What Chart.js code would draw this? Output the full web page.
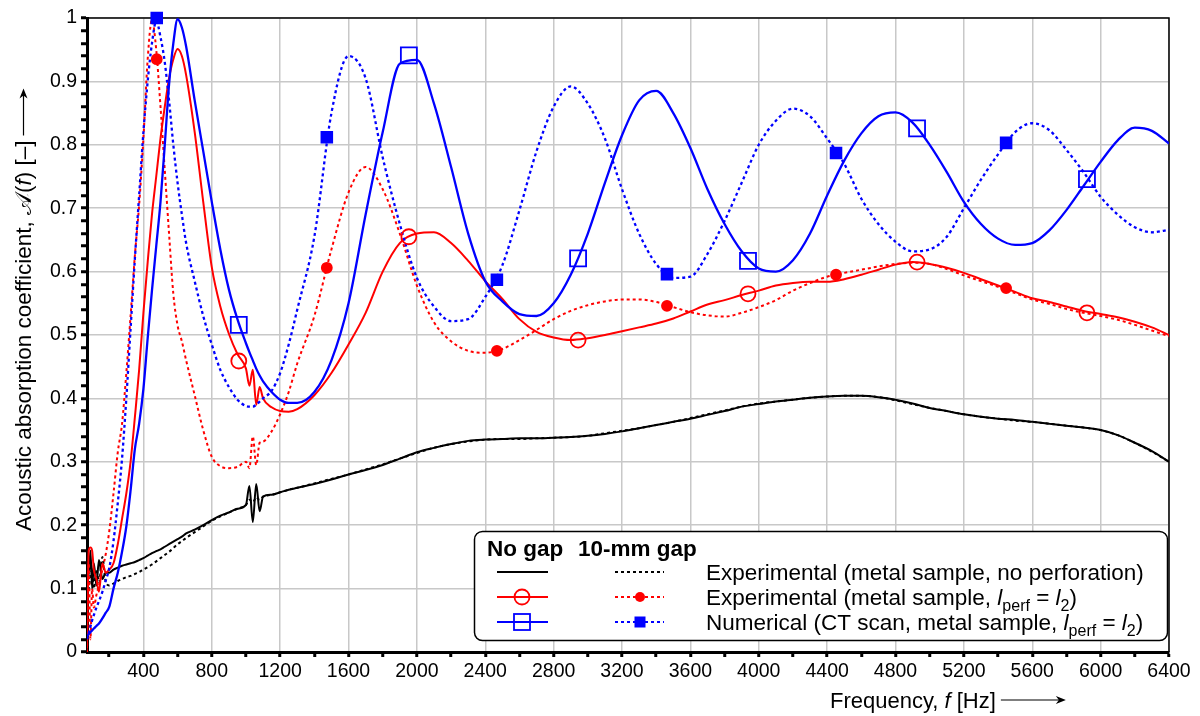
<!DOCTYPE html>
<html>
<head>
<meta charset="utf-8">
<script src="https://cdn.jsdelivr.net/npm/chart.js@4.4.1/dist/chart.umd.min.js"></script>
<style>
  html, body { margin: 0; padding: 0; background: #fff; }
</style>
</head>
<body>
<canvas id="c" width="1200" height="716"></canvas>
<script>
// frequency grid [Hz] shared by all curves
const freq = [
  70, 80, 90, 100, 110, 125, 140, 160, 180, 200,
  225, 250, 275, 300, 325, 350, 375, 400, 425, 450,
  475, 500, 525, 550, 575, 600, 625, 650, 700, 750,
  800, 850, 900, 950, 1000, 1020, 1040, 1060, 1080, 1100,
  1150, 1200, 1250, 1300,
  1400, 1500, 1600, 1700, 1800, 1900, 2000, 2100, 2200, 2300,
  2400, 2500, 2600, 2700, 2800, 2900, 3000, 3100, 3200, 3300,
  3400, 3500, 3600, 3700, 3800, 3900, 4000, 4100, 4200, 4300,
  4400, 4500, 4600, 4700, 4800, 4900, 5000, 5100, 5200, 5300,
  5400, 5500, 5600, 5700, 5800, 5900, 6000, 6100, 6200, 6300,
  6400
];

// experimental, metal sample, no perforation (no gap / 10-mm gap)
const expNoPerf = [
  0.18, 0.12, 0.16, 0.10, 0.14, 0.105, 0.145, 0.115, 0.125, 0.125,
  0.13, 0.133, 0.136, 0.138, 0.14, 0.142, 0.145, 0.148, 0.152, 0.156,
  0.159, 0.162, 0.166, 0.17, 0.174, 0.178, 0.182, 0.187, 0.193, 0.2,
  0.208, 0.215, 0.22, 0.226, 0.232, 0.262, 0.205, 0.265, 0.222, 0.245,
  0.248, 0.252, 0.256, 0.259,
  0.265, 0.272, 0.28, 0.287, 0.295, 0.305, 0.315, 0.322, 0.328, 0.333,
  0.335, 0.336, 0.337, 0.337, 0.338, 0.339, 0.341, 0.344, 0.348, 0.353,
  0.358, 0.363, 0.368, 0.374, 0.38, 0.387, 0.391, 0.395, 0.398, 0.401,
  0.403, 0.404, 0.404, 0.402, 0.398, 0.392, 0.385, 0.38, 0.375, 0.371,
  0.368, 0.366, 0.363, 0.36, 0.357, 0.354, 0.35, 0.342, 0.33, 0.317,
  0.3
];
const expNoPerfGap = [
  0.14, 0.10, 0.12, 0.13, 0.10, 0.13, 0.11, 0.15, 0.11, 0.105,
  0.108, 0.112, 0.115, 0.118, 0.12, 0.123, 0.126, 0.13, 0.134, 0.138,
  0.143, 0.148, 0.153, 0.158, 0.164, 0.17, 0.175, 0.18, 0.189, 0.198,
  0.207, 0.214, 0.22, 0.226, 0.232, 0.24, 0.236, 0.244, 0.24, 0.245,
  0.248, 0.252, 0.256, 0.259,
  0.266, 0.273, 0.28, 0.288, 0.296, 0.305, 0.314, 0.322, 0.328, 0.332,
  0.335, 0.336, 0.336, 0.337, 0.338, 0.339, 0.341, 0.345, 0.349, 0.353,
  0.358, 0.363, 0.369, 0.375, 0.381, 0.387, 0.392, 0.395, 0.398, 0.401,
  0.403, 0.404, 0.404, 0.402, 0.397, 0.391, 0.385, 0.38, 0.375, 0.371,
  0.368, 0.365, 0.363, 0.36, 0.357, 0.354, 0.35, 0.342, 0.33, 0.316,
  0.3
];

// experimental, metal sample, l_perf = l_2
const expPerf = [
  0.005, 0.16, 0.165, 0.16, 0.13, 0.115, 0.095, 0.14, 0.125, 0.13,
  0.14, 0.17, 0.21, 0.25, 0.30, 0.37, 0.445, 0.535, 0.615, 0.69,
  0.75, 0.81, 0.86, 0.905, 0.935, 0.951, 0.94, 0.91, 0.82, 0.71,
  0.607, 0.545, 0.502, 0.47, 0.447, 0.42, 0.445, 0.39, 0.418, 0.40,
  0.386, 0.38, 0.379, 0.383,
  0.405, 0.44, 0.485, 0.535, 0.6, 0.645, 0.66, 0.662, 0.645, 0.617,
  0.585, 0.557, 0.525, 0.505, 0.496, 0.492, 0.495, 0.5, 0.506, 0.512,
  0.518, 0.526, 0.537, 0.548, 0.555, 0.563, 0.57, 0.578, 0.582, 0.584,
  0.584, 0.588, 0.595, 0.603, 0.611, 0.615, 0.612, 0.606, 0.598, 0.588,
  0.578, 0.568, 0.558, 0.552, 0.545, 0.538, 0.533, 0.528, 0.521, 0.512,
  0.5
];
const expPerfGap = [
  0.0, 0.14, 0.02, 0.10, 0.07, 0.09, 0.105, 0.13, 0.155, 0.19,
  0.25, 0.315, 0.36, 0.44, 0.53, 0.625, 0.705, 0.81, 0.935, 0.997,
  0.95, 0.86, 0.76, 0.66, 0.565, 0.515, 0.49, 0.46, 0.405, 0.35,
  0.308, 0.293, 0.29, 0.292, 0.30, 0.29, 0.34, 0.295, 0.33, 0.332,
  0.348, 0.375, 0.41, 0.455,
  0.53, 0.635, 0.725, 0.765, 0.73, 0.66, 0.578, 0.52, 0.49, 0.475,
  0.472, 0.478, 0.492, 0.508, 0.525, 0.538, 0.547, 0.553, 0.556, 0.556,
  0.552, 0.544, 0.536, 0.531, 0.529, 0.535, 0.544, 0.555, 0.57, 0.582,
  0.592, 0.598, 0.603, 0.608, 0.612, 0.614, 0.612, 0.604, 0.594, 0.585,
  0.576, 0.566, 0.556, 0.549, 0.541, 0.535, 0.53, 0.524, 0.516, 0.507,
  0.498
];

// numerical (CT scan), metal sample, l_perf = l_2
const numPerf = [
  0.025, 0.028, 0.031, 0.034, 0.037, 0.041, 0.045, 0.053, 0.062, 0.071,
  0.10, 0.125, 0.158, 0.198, 0.255, 0.32, 0.36, 0.415, 0.495, 0.57,
  0.64, 0.71, 0.80, 0.895, 0.96, 0.998, 0.985, 0.955, 0.87, 0.79,
  0.71, 0.635, 0.572, 0.525, 0.487, 0.473, 0.46, 0.447, 0.436, 0.427,
  0.41, 0.398, 0.393, 0.393,
  0.41, 0.46, 0.55, 0.69, 0.82, 0.928, 0.934, 0.865, 0.765, 0.66,
  0.585, 0.553, 0.533, 0.53, 0.55, 0.595, 0.66, 0.74, 0.815, 0.87,
  0.885, 0.85, 0.795, 0.73, 0.675, 0.632, 0.605, 0.60, 0.618, 0.66,
  0.72, 0.775, 0.818, 0.845, 0.851, 0.835, 0.80, 0.757, 0.71, 0.675,
  0.652, 0.642, 0.645, 0.665, 0.697, 0.735, 0.773, 0.807, 0.827, 0.822,
  0.802
];
const numPerfGap = [
  0.02, 0.03, 0.04, 0.05, 0.058, 0.07, 0.08, 0.095, 0.113, 0.132,
  0.175, 0.235, 0.305, 0.40, 0.51, 0.62, 0.72, 0.82, 0.90, 0.96,
  0.995, 0.97, 0.93, 0.87, 0.80, 0.74, 0.69, 0.645, 0.585, 0.53,
  0.485, 0.445, 0.418, 0.398, 0.388, 0.387, 0.387, 0.39, 0.395, 0.40,
  0.412, 0.44, 0.485, 0.54,
  0.655, 0.85, 0.94, 0.905, 0.78, 0.675, 0.59, 0.545, 0.522, 0.525,
  0.56, 0.61, 0.697, 0.79, 0.86, 0.892, 0.865, 0.81, 0.73, 0.66,
  0.612, 0.59, 0.592, 0.628, 0.68, 0.74, 0.80, 0.838, 0.857, 0.845,
  0.81, 0.77, 0.715, 0.675, 0.647, 0.632, 0.635, 0.655, 0.70, 0.745,
  0.785, 0.82, 0.834, 0.823, 0.792, 0.757, 0.718, 0.69, 0.67, 0.662,
  0.666
];

// sparse markers
const markFreqNoGap = [958, 1953, 2943, 3937, 4926, 5920];
const markFreqGap = [478, 1473, 2468, 3463, 4452, 5447];
const markExpPerf = [0.459, 0.655, 0.492, 0.565, 0.615, 0.535];
const markNumPerf = [0.516, 0.941, 0.621, 0.617, 0.826, 0.746];
const markExpPerfGap = [0.935, 0.606, 0.475, 0.546, 0.595, 0.574];
const markNumPerfGap = [1.0, 0.812, 0.587, 0.596, 0.787, 0.803];

// axis ticks
const xTicks = [200, 400, 600, 800, 1000, 1200, 1400, 1600, 1800, 2000, 2200, 2400, 2600, 2800, 3000, 3200,
  3400, 3600, 3800, 4000, 4200, 4400, 4600, 4800, 5000, 5200, 5400, 5600, 5800, 6000, 6200, 6400];
const yTicks = Array.from({ length: 51 }, (_, i) => i / 50);

const FONT = '"Liberation Sans", Arial, sans-serif';
const RED = '#ff0000';
const BLUE = '#0000ff';
const TXT = 22.5;

const pts = (xs, ys) => xs.map((x, i) => ({ x: x, y: ys[i] }));

const curve = (vals, color, dotted, width) => ({
  data: pts(freq, vals),
  borderColor: color,
  borderWidth: width,
  borderDash: dotted ? [3, 3] : [],
  pointRadius: 0,
  order: 2
});

const markers = (xs, ys, color, style, radius, filled) => ({
  data: pts(xs, ys),
  showLine: false,
  pointStyle: style,
  pointRadius: radius,
  pointBorderWidth: 1.8,
  pointBorderColor: color,
  pointBackgroundColor: filled ? color : 'rgba(0,0,0,0)',
  clip: false,
  order: 0
});

// draws a run of text pieces (normal / italic / subscript / bold)
function drawRuns(ctx, runs, x, y, size) {
  for (const r of runs) {
    const s = r.sub ? Math.round(size * 0.72) : size;
    ctx.font = (r.it ? 'italic ' : '') + (r.bold ? 'bold ' : '') + s + 'px ' + FONT;
    ctx.fillText(r.t, x, y + (r.sub ? size * 0.28 : 0));
    x += ctx.measureText(r.t).width;
  }
  return x;
}

function arrow(ctx, x1, y, x2) {
  ctx.beginPath();
  ctx.moveTo(x1, y);
  ctx.lineTo(x2 - 6, y);
  ctx.lineWidth = 1.2;
  ctx.stroke();
  ctx.beginPath();
  ctx.moveTo(x2, y);
  ctx.lineTo(x2 - 10, y - 4);
  ctx.lineTo(x2 - 7, y);
  ctx.lineTo(x2 - 10, y + 4);
  ctx.closePath();
  ctx.fill();
}

const frame = {
  id: 'frame',
  beforeDatasetsDraw(chart) {
    const { ctx, chartArea: a } = chart;
    ctx.save();
    ctx.strokeStyle = '#000';
    ctx.lineWidth = 1.5;
    ctx.beginPath();
    ctx.moveTo(a.left, a.top);
    ctx.lineTo(a.right, a.top);
    ctx.lineTo(a.right, a.bottom);
    ctx.stroke();
    ctx.restore();
  }
};

const titles = {
  id: 'titles',
  afterDraw(chart) {
    const ctx = chart.ctx;
    ctx.save();
    ctx.fillStyle = '#000';
    ctx.strokeStyle = '#000';
    ctx.textBaseline = 'alphabetic';
    // x title
    let x = drawRuns(ctx, [
      { t: 'Frequency, ' }, { t: 'f', it: true }, { t: ' [Hz]' }
    ], 830, 708, 22);
    arrow(ctx, x + 5, 700, x + 70);
    // y title
    ctx.translate(31, 531);
    ctx.rotate(-Math.PI / 2);
    x = drawRuns(ctx, [
      { t: 'Acoustic absorption coefficient, ' }, { t: '\u{1D49C}' }, { t: '(' },
      { t: 'f', it: true }, { t: ') [\u2013]' }
    ], 0, 0, 22.5);
    arrow(ctx, x + 5, -7.5, x + 52);
    ctx.restore();
  }
};

const legendBox = {
  id: 'legendBox',
  afterDraw(chart) {
    const ctx = chart.ctx;
    ctx.save();
    ctx.beginPath();
    ctx.roundRect(474.5, 531.5, 693, 109, 8);
    ctx.fillStyle = '#fff';
    ctx.fill();
    ctx.strokeStyle = '#000';
    ctx.lineWidth = 1.5;
    ctx.stroke();

    ctx.fillStyle = '#000';
    drawRuns(ctx, [{ t: 'No gap', bold: true }], 487, 556, TXT);
    drawRuns(ctx, [{ t: '10-mm gap', bold: true }], 578, 556, TXT);

    const rows = [
      { y: 572, color: '#000', open: null,
        text: [{ t: 'Experimental (metal sample, no perforation)' }] },
      { y: 597, color: RED, open: 'circle',
        text: [{ t: 'Experimental (metal sample, ' }, { t: 'l', it: true }, { t: 'perf', sub: true },
          { t: ' = ' }, { t: 'l', it: true }, { t: '2', sub: true }, { t: ')' }] },
      { y: 622, color: BLUE, open: 'rect',
        text: [{ t: 'Numerical (CT scan, metal sample, ' }, { t: 'l', it: true }, { t: 'perf', sub: true },
          { t: ' = ' }, { t: 'l', it: true }, { t: '2', sub: true }, { t: ')' }] }
    ];
    for (const r of rows) {
      ctx.strokeStyle = r.color;
      ctx.fillStyle = r.color;
      ctx.lineWidth = 2;
      ctx.setLineDash([]);
      ctx.beginPath(); ctx.moveTo(497, r.y); ctx.lineTo(548, r.y); ctx.stroke();
      ctx.setLineDash([3, 3]);
      ctx.beginPath(); ctx.moveTo(615, r.y); ctx.lineTo(664, r.y); ctx.stroke();
      ctx.setLineDash([]);
      ctx.lineWidth = 1.8;
      if (r.open === 'circle') {
        ctx.beginPath(); ctx.arc(522, r.y, 7.5, 0, Math.PI * 2); ctx.stroke();
        ctx.beginPath(); ctx.arc(640, r.y, 5, 0, Math.PI * 2); ctx.fill();
      } else if (r.open === 'rect') {
        ctx.strokeRect(514, r.y - 8, 16, 16);
        ctx.fillRect(634.5, r.y - 5.5, 11, 11);
      }
      ctx.fillStyle = '#000';
      drawRuns(ctx, r.text, 706, r.y + 8, TXT);
    }
    ctx.restore();
  }
};

const isMajorX = v => v % 400 === 0;
const isMajorY = v => Math.round(v * 50) % 5 === 0;

new Chart(document.getElementById('c'), {
  type: 'line',
  data: {
    datasets: [
      markers(markFreqNoGap, markExpPerf, RED, 'circle', 7.5, false),
      markers(markFreqGap, markExpPerfGap, RED, 'circle', 5, true),
      markers(markFreqNoGap, markNumPerf, BLUE, 'rect', 11.3, false),
      markers(markFreqGap, markNumPerfGap, BLUE, 'rect', 7.6, true),
      curve(numPerf, BLUE, false, 2.3),
      curve(numPerfGap, BLUE, true, 2.3),
      curve(expPerf, RED, false, 2),
      curve(expPerfGap, RED, true, 2),
      curve(expNoPerf, '#000', false, 2),
      curve(expNoPerfGap, '#000', true, 2)
    ]
  },
  options: {
    responsive: false,
    animation: false,
    events: [],
    layout: { padding: { left: 0, right: 31, top: 18, bottom: 0 } },
    elements: { line: { cubicInterpolationMode: 'monotone' } },
    plugins: {
      legend: { display: false },
      tooltip: { enabled: false }
    },
    scales: {
      x: {
        type: 'linear',
        min: 70,
        max: 6400,
        afterBuildTicks: s => { s.ticks = xTicks.map(v => ({ value: v })); },
        afterFit: s => { s.height = 64; },
        ticks: {
          autoSkip: false,
          maxRotation: 0,
          padding: 3,
          color: '#000',
          font: { family: FONT, size: 19.5 },
          callback: v => isMajorX(v) ? String(v) : ''
        },
        grid: {
          color: c => c.tick && isMajorX(c.tick.value) ? '#c8c8c8' : 'rgba(0,0,0,0)',
          lineWidth: 1.5,
          tickColor: '#000',
          tickWidth: 3,
          tickLength: 5
        },
        border: { display: true, color: '#000', width: 3 }
      },
      y: {
        min: 0,
        max: 1,
        afterBuildTicks: s => { s.ticks = yTicks.map(v => ({ value: v })); },
        afterFit: s => { s.width = 87; },
        ticks: {
          autoSkip: false,
          padding: 4,
          color: '#000',
          font: { family: FONT, size: 19.5 },
          callback: v => isMajorY(v) ? String(Math.round(v * 10) / 10) : ''
        },
        grid: {
          color: c => c.tick && isMajorY(c.tick.value) ? '#c8c8c8' : 'rgba(0,0,0,0)',
          lineWidth: 1.5,
          tickColor: '#000',
          tickWidth: 3,
          tickLength: 6
        },
        border: { display: true, color: '#000', width: 3 }
      }
    }
  },
  plugins: [frame, titles, legendBox]
});
</script>
</body>
</html>
